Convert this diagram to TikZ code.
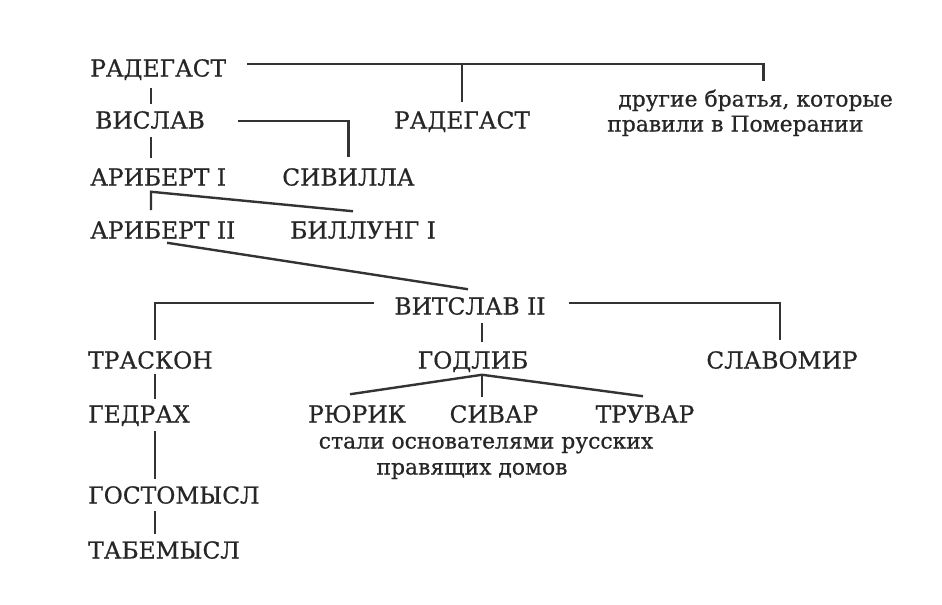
\documentclass[tikz,border=0pt]{standalone}
\usepackage{fontspec}
\setmainfont[FakeBold=0.6]{DejaVu Serif}
\usetikzlibrary{calc}

\tikzset{
	person/.style={font={\fontsize{17.5pt}{21pt}\selectfont},text=black!85,inner sep=0pt,text height=12.75pt,text depth=0pt},
	remark/.style={person,font={\fontsize{16.4pt}{20pt}\selectfont}},
	tie/.style={line width=1.8pt,draw=black!80}
}

\begin{document}
\begin{tikzpicture}[x=0.75pt,y=-0.75pt]
		\useasboundingbox (0,0) rectangle (942,604);
		\coordinate (colA) at (151,0);
		\coordinate (colB) at (155,0);
		\coordinate (colG) at (482,0);
		\node[person,anchor=west] (rad1) at (90,68) {РАДЕГАСТ};
		\node[person,anchor=west] (vis) at (95,120) {ВИСЛАВ};
		\node[person] (rad2) at (462,120) {РАДЕГАСТ};
		\node[remark,anchor=west] (bro1) at (618,98) {другие братья, которые};
		\node[remark,anchor=west] (bro2) at (607,123) {правили в Померании};
		\node[person,anchor=west] (ari1) at (90,177) {АРИБЕРТ I};
		\node[person,anchor=west] (sib) at (282,177) {СИВИЛЛА};
		\node[person,anchor=west] (ari2) at (90,230) {АРИБЕРТ II};
		\node[person,anchor=west] (bil) at (290,230) {БИЛЛУНГ I};
		\node[person] (vit) at (470,306) {ВИТСЛАВ II};
		\node[person,anchor=west] (tra) at (88,360) {ТРАСКОН};
		\node[person] (god) at (473,360) {ГОДЛИБ};
		\node[person] (sla) at (782,360) {СЛАВОМИР};
		\node[person,anchor=west] (gedr) at (88,414) {ГЕДРАХ};
		\node[person] (rur) at (357,414) {РЮРИК};
		\node[person] (siv) at (494,414) {СИВАР};
		\node[person] (tru) at (645,414) {ТРУВАР};
		\node[remark] (note1) at (486,440) {стали основателями русских};
		\node[remark] (note2) at (472,466) {правящих домов};
		\node[person,anchor=west] (gos) at (88,495) {ГОСТОМЫСЛ};
		\node[person,anchor=west] (tab) at (88,550) {ТАБЕМЫСЛ};
		\coordinate (bar1) at ($(rad1.east)+(21,-4)$);
		\draw[tie] (bar1) -| ($(bro1.north)+(8,-8)$);
		\draw[tie] (bar1 -| rad2.north) -- ($(rad2.north)+(0,-9)$);
		\draw[tie] ($(rad1.south -| colA)+(0,11)$) -- ($(vis.north -| colA)+(0,-7)$);
		\draw[tie] ($(vis.east)+(33,1)$) -| ($(sib.north)+(0,-11)$);
		\draw[tie] ($(vis.south -| colA)+(0,8)$) -- ($(ari1.north -| colA)+(0,-10)$);
		\coordinate (fork1) at ($(ari1.south -| colA)+(0,6)$);
		\draw[tie] ($(ari2.north -| colA)+(0,-11)$) -- (fork1) -- ($(bil.north west)+(63,-10)$);
		\draw[tie] ($(ari2.south west)+(77,4)$) -- ($(vit.north)+(-2,-8)$);
		\draw[tie] ($(vit.west)+(-20,-3)$) -| ($(tra.north -| colB)+(0,-11)$);
		\draw[tie] ($(vit.east)+(23,-3)$) -| ($(sla.north)+(-2,-11)$);
		\draw[tie] ($(vit.south -| colG)+(0,8)$) -- ($(god.north -| colG)+(0,-9)$);
		\coordinate (fork2) at ($(god.south -| colG)+(0,6)$);
		\draw[tie] (fork2) -- ($(rur.north)+(-7,-11)$);
		\draw[tie] (fork2) -- ($(siv.north -| colG)+(0,-8)$);
		\draw[tie] (fork2) -- ($(tru.north)+(-2,-9)$);
		\draw[tie] ($(tra.south -| colB)+(0,5)$) -- ($(gedr.north -| colB)+(0,-6)$);
		\draw[tie] ($(gedr.south -| colB)+(0,8)$) -- ($(gos.north -| colB)+(0,-7)$);
		\draw[tie] ($(gos.south -| colB)+(0,7)$) -- ($(tab.north -| colB)+(0,-7)$);
\end{tikzpicture}
\end{document}
